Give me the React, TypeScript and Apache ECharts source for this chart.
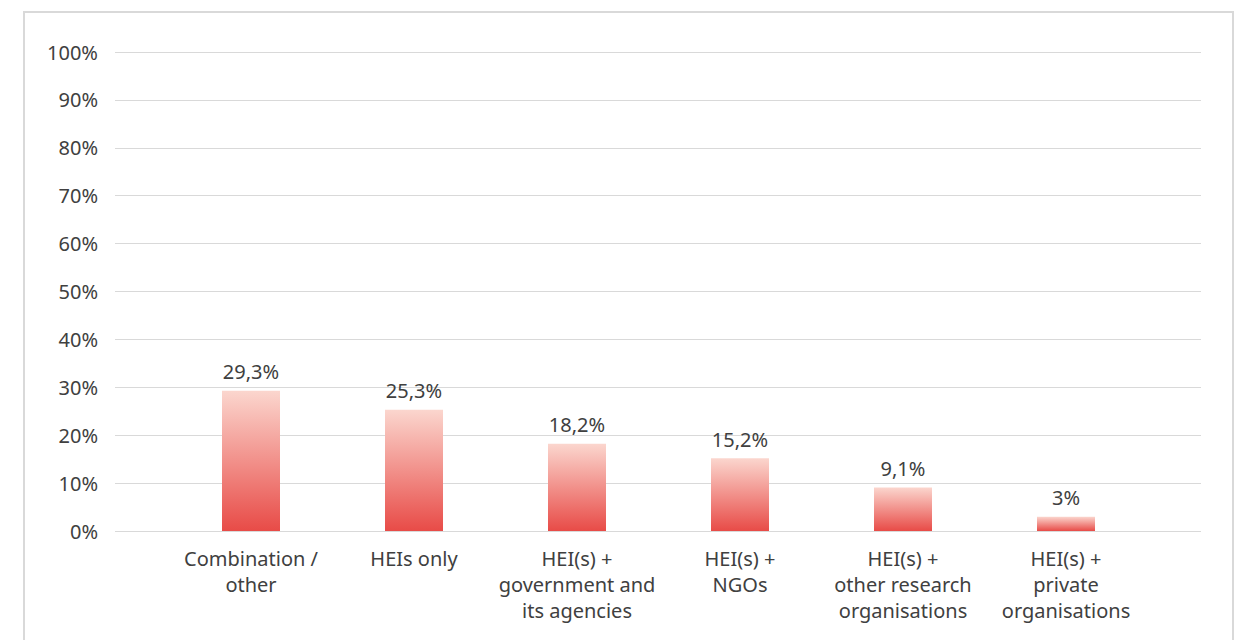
import React, { useEffect, useRef } from "react";
import * as echarts from "echarts";

const categories = [
  "Combination /\nother",
  "HEIs only",
  "HEI(s) +\ngovernment and\nits agencies",
  "HEI(s) +\nNGOs",
  "HEI(s) +\nother research\norganisations",
  "HEI(s) +\nprivate\norganisations",
];
const values = [29.3, 25.3, 18.2, 15.2, 9.1, 3];

const FONT = "'Noto Sans', sans-serif";

export default function App() {
  const ref = useRef<HTMLDivElement>(null);
  useEffect(() => {
    if (!ref.current) return;
    const chart = echarts.init(ref.current, null, { renderer: "svg" });
    chart.setOption({
      animation: false,
      backgroundColor: "#ffffff",
      graphic: [
        {
          type: "rect",
          shape: { x: 24, y: 12, width: 1209, height: 700 },
          style: { fill: "none", stroke: "#d9d9d9", lineWidth: 2 },
          silent: true,
        },
      ],
      grid: [
        { left: 115, right: 38, top: 52, bottom: 109 },
        { left: 169.5, right: 91.5, top: 52, bottom: 109 },
      ],
      xAxis: [
        { gridIndex: 0, type: "category", data: categories, show: false },
        {
          gridIndex: 1,
          type: "category",
          data: categories,
          axisLine: { show: false },
          axisTick: { show: false },
          axisLabel: {
            interval: 0,
            margin: 14,
            fontFamily: FONT,
            fontSize: 20,
            lineHeight: 26,
            color: "#404040",
          },
        },
      ],
      yAxis: [
        {
          gridIndex: 0,
          type: "value",
          min: 0,
          max: 100,
          interval: 10,
          axisLine: { show: false },
          axisTick: { show: false },
          axisLabel: {
            formatter: "{value}%",
            margin: 17,
            fontFamily: FONT,
            fontSize: 20,
            color: "#404040",
          },
          splitLine: { lineStyle: { color: "#d9d9d9", width: 1 } },
        },
        { gridIndex: 1, type: "value", min: 0, max: 100, show: false },
      ],
      series: [
        {
          type: "bar",
          xAxisIndex: 1,
          yAxisIndex: 1,
          data: values,
          barWidth: 58,
          itemStyle: {
            color: new echarts.graphic.LinearGradient(0, 0, 0, 1, [
              { offset: 0, color: "#fbd6ce" },
              { offset: 1, color: "#e84b47" },
            ]),
          },
          label: {
            show: true,
            position: "top",
            distance: 9,
            fontFamily: FONT,
            fontSize: 20,
            color: "#404040",
            formatter: (p: any) => String(p.value).replace(".", ",") + "%",
          },
        },
      ],
    });
    return () => chart.dispose();
  }, []);
  return (
    <div
      ref={ref}
      style={{ position: "fixed", left: 0, top: 0, width: 1239, height: 640 }}
    />
  );
}
